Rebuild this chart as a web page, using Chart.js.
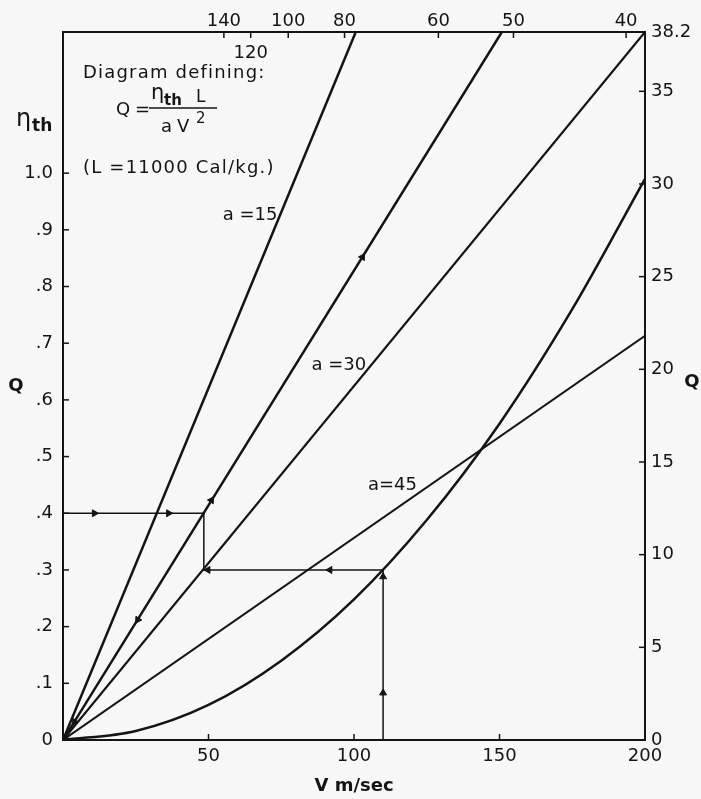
<!DOCTYPE html>
<html>
<head>
<meta charset="utf-8">
<script src="https://cdn.jsdelivr.net/npm/chart.js@4.4.1/dist/chart.umd.min.js"></script>
<style>
  body { margin: 0; background: #f7f7f7; }
  canvas { display: block; }
</style>
</head>
<body>
<canvas id="myChart" width="701" height="799"></canvas>
<script>
// V (m/sec) along the bottom, Q on the left scale
const vLine15 = [0, 100.6];
const qLine15 = [0, 1.249];
const vLineMid = [0, 150.8];
const qLineMid = [0, 1.249];
const vLine30 = [0, 200];
const qLine30 = [0, 1.249];
const vLine45 = [0, 200];
const qLine45 = [0, 0.713];
const vCurve = [0, 25, 50, 75, 100, 125, 150, 175, 200];
const qCurve = [0, 0.016, 0.062, 0.14, 0.248, 0.388, 0.558, 0.76, 0.99];

// worked example path
const vPath = [0, 48.4, 48.4, 110, 110];
const qPath = [0.4, 0.4, 0.3, 0.3, 0];

// arrow heads (direction in degrees, clockwise from "up")
const vArrows = [10.8, 36.3, 49.8, 91.7, 110, 110, 102.9, 51, 25.7, 4];
const qArrows = [0.4, 0.4, 0.3, 0.3, 0.083, 0.288, 0.852, 0.423, 0.212, 0.032];
const arrowDir = [90, 90, -90, -90, 0, 0, 32, 32, 212, 212];

// axes
const vTicks = [50, 100, 150, 200];
const qTicks = [0, 0.1, 0.2, 0.3, 0.4, 0.5, 0.6, 0.7, 0.8, 0.9, 1.0];
const qRightTicks = [0, 5, 10, 15, 20, 25, 30, 35, 38.2];
const vTopTicks = [140, 120, 100, 80, 60, 50, 40];
const vTopEnd = 38.7; // top scale value at the right corner

// curve labels
const labelText = ['a =15', 'a =30', 'a=45'];
const labelV = [54.9, 85.4, 104.8];
const labelQ = [0.917, 0.653, 0.441];

const ink = '#141414';
Chart.defaults.font.family = 'DejaVu Sans';
Chart.defaults.font.size = 18;
Chart.defaults.color = ink;

function pts(xs, ys) {
  return xs.map((x, i) => ({ x: x, y: ys[i] }));
}

function line(xs, ys, w) {
  return {
    data: pts(xs, ys),
    showLine: true,
    borderColor: ink,
    borderWidth: w,
    pointRadius: 0,
    fill: false
  };
}

const noGrid = { display: false, drawTicks: false };

const inwardTicks = {
  id: 'inwardTicks',
  afterDraw(chart) {
    const ctx = chart.ctx;
    const len = 6;
    ctx.save();
    ctx.strokeStyle = ink;
    ctx.lineWidth = 1.5;
    ['x', 'xTop', 'y', 'y2'].forEach(id => {
      const s = chart.scales[id];
      s.ticks.forEach(t => {
        const p = s.getPixelForValue(t.value);
        ctx.beginPath();
        if (id === 'x') { ctx.moveTo(p, s.top); ctx.lineTo(p, s.top - len); }
        else if (id === 'xTop') { ctx.moveTo(p, s.bottom); ctx.lineTo(p, s.bottom + len); }
        else if (id === 'y') { ctx.moveTo(s.right, p); ctx.lineTo(s.right + len, p); }
        else { ctx.moveTo(s.left, p); ctx.lineTo(s.left - len, p); }
        ctx.stroke();
      });
    });
    ctx.restore();
  }
};

const notes = {
  id: 'notes',
  afterDraw(chart) {
    const ctx = chart.ctx;
    const x = chart.scales.x, y = chart.scales.y, top = chart.scales.xTop;
    const a = chart.chartArea;
    ctx.save();
    ctx.fillStyle = ink;
    ctx.strokeStyle = ink;
    ctx.textBaseline = 'alphabetic';
    ctx.textAlign = 'left';

    // curve labels
    ctx.font = '18px DejaVu Sans';
    labelText.forEach((t, i) => {
      ctx.fillText(t, x.getPixelForValue(labelV[i]), y.getPixelForValue(labelQ[i]));
    });

    // "120" sits under the top line
    ctx.textAlign = 'center';
    ctx.fillText('120', top.getPixelForValue(1 / 120), a.top + 26);

    // description block
    ctx.textAlign = 'left';
    ctx.letterSpacing = '1.2px';
    ctx.fillText('Diagram defining:', a.left + 20, a.top + 46);
    ctx.fillText('(L =11000 Cal/kg.)', a.left + 20, a.top + 141);
    ctx.letterSpacing = '0px';

    // Q = eta_th L / (a V^2)
    ctx.fillText('Q', a.left + 53, a.top + 83);
    ctx.fillText('=', a.left + 72, a.top + 83);
    ctx.lineWidth = 1.5;
    ctx.beginPath();
    ctx.moveTo(a.left + 86, a.top + 76);
    ctx.lineTo(a.left + 154, a.top + 76);
    ctx.stroke();
    ctx.font = '21px DejaVu Sans';
    ctx.fillText('\u03b7', a.left + 88, a.top + 67);
    ctx.font = 'bold 15px DejaVu Sans';
    ctx.fillText('th', a.left + 101, a.top + 73);
    ctx.font = '17px DejaVu Sans';
    ctx.fillText('L', a.left + 133, a.top + 70);
    ctx.font = '18px DejaVu Sans';
    ctx.fillText('a', a.left + 98, a.top + 100);
    ctx.fillText('V', a.left + 114, a.top + 100);
    ctx.font = '15px DejaVu Sans';
    ctx.fillText('2', a.left + 133, a.top + 91);

    // axis names
    ctx.font = '24px DejaVu Sans';
    ctx.fillText('\u03b7', 16, 126);
    ctx.font = 'bold 17px DejaVu Sans';
    ctx.fillText('th', 32, 131);
    ctx.font = 'bold 18px DejaVu Sans';
    ctx.textAlign = 'center';
    ctx.textBaseline = 'middle';
    ctx.fillText('Q', 16, (a.top + a.bottom) / 2);
    ctx.fillText('Q', 692, (a.top + a.bottom) / 2 - 4);
    ctx.restore();
  }
};

const ctx = document.getElementById('myChart').getContext('2d');

const chart = new Chart(ctx, {
  type: 'scatter',
  data: {
    datasets: [
      line(vLine15, qLine15, 2.5),
      line(vLineMid, qLineMid, 2.5),
      line(vLine30, qLine30, 2.2),
      line(vLine45, qLine45, 2),
      Object.assign(line(vCurve, qCurve, 2.5), { cubicInterpolationMode: 'monotone' }),
      line(vPath, qPath, 1.5),
      {
        data: pts(vArrows, qArrows),
        showLine: false,
        pointStyle: 'triangle',
        pointRadius: 4,
        rotation: arrowDir,
        backgroundColor: ink,
        borderColor: ink,
        borderWidth: 1
      }
    ]
  },
  options: {
    responsive: false,
    animation: false,
    devicePixelRatio: 1,
    layout: { padding: 0 },
    plugins: {
      legend: { display: false },
      tooltip: { enabled: false },
      title: { display: false }
    },
    scales: {
      x: {
        type: 'linear',
        position: 'bottom',
        min: 0,
        max: 200,
        afterBuildTicks: s => { s.ticks = vTicks.map(v => ({ value: v })); },
        afterFit: s => { s.height = 59; },
        grid: noGrid,
        border: { color: ink, width: 2 },
        ticks: { padding: 6, maxRotation: 0, callback: v => String(v) },
        title: {
          display: true,
          text: 'V m/sec',
          font: { size: 18, weight: 'bold' },
          padding: { top: 0, bottom: 2 }
        }
      },
      xTop: {
        type: 'linear',
        position: 'top',
        min: 0,
        max: 1 / vTopEnd,
        afterBuildTicks: s => { s.ticks = vTopTicks.map(v => ({ value: 1 / v })); },
        afterFit: s => { s.height = 32; },
        grid: noGrid,
        border: { color: ink, width: 2 },
        ticks: {
          padding: 0,
          maxRotation: 0,
          autoSkip: false,
          callback: v => {
            const n = Math.round(1 / v);
            return n === 120 ? '' : String(n);
          }
        }
      },
      y: {
        type: 'linear',
        position: 'left',
        min: 0,
        max: 1.249,
        afterBuildTicks: s => { s.ticks = qTicks.map(v => ({ value: v })); },
        afterFit: s => { s.width = 63; },
        grid: noGrid,
        border: { color: ink, width: 2 },
        ticks: {
          padding: 10,
          callback: v => v === 0 ? '0' : (v >= 1 ? v.toFixed(1) : v.toFixed(1).replace(/^0/, ''))
        }
      },
      y2: {
        type: 'linear',
        position: 'right',
        min: 0,
        max: 38.2,
        afterBuildTicks: s => { s.ticks = qRightTicks.map(v => ({ value: v })); },
        afterFit: s => { s.width = 56; },
        grid: noGrid,
        border: { color: ink, width: 2 },
        ticks: { padding: 6, callback: v => String(v) }
      }
    }
  },
  plugins: [inwardTicks, notes]
});
</script>
</body>
</html>
